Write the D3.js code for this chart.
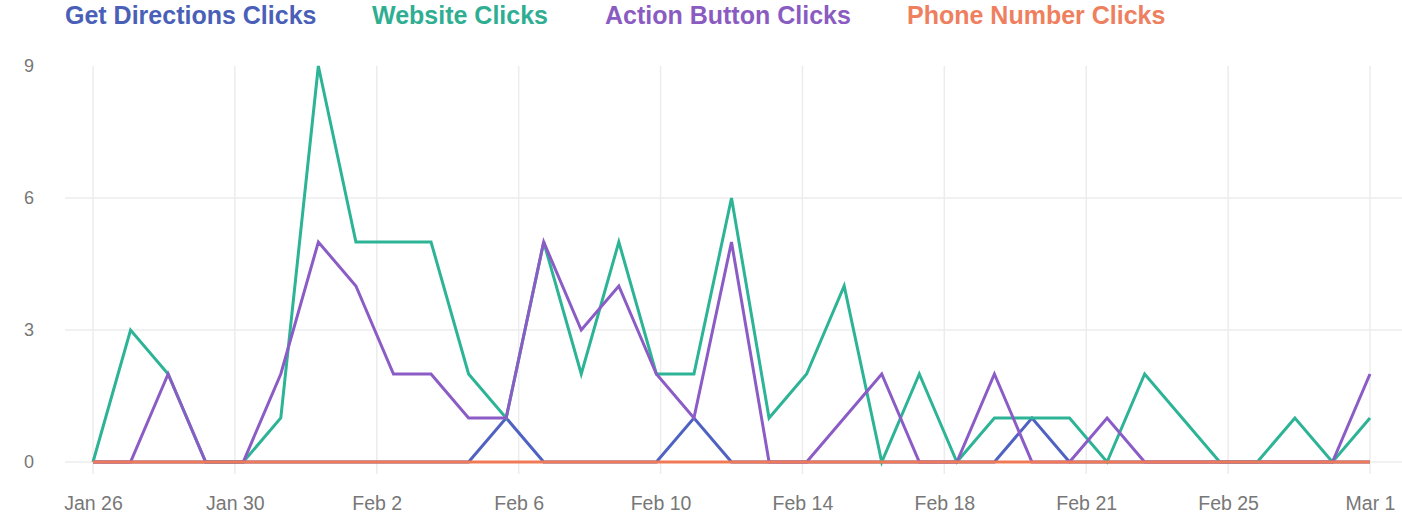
<!DOCTYPE html>
<html><head><meta charset="utf-8">
<script src="https://cdn.jsdelivr.net/npm/d3@7"></script>
<style>body{margin:0;background:#fff;} svg{display:block;}</style>
</head><body>
<svg id="chart" width="1402" height="519"></svg>
<script>
const dates = ["Jan 26","Jan 27","Jan 28","Jan 29","Jan 30","Jan 31","Feb 1","Feb 2","Feb 3","Feb 4","Feb 5","Feb 6","Feb 7","Feb 8","Feb 9","Feb 10","Feb 11","Feb 12","Feb 13","Feb 14","Feb 15","Feb 16","Feb 17","Feb 18","Feb 19","Feb 20","Feb 21","Feb 22","Feb 23","Feb 24","Feb 25","Feb 26","Feb 27","Feb 28","Mar 1"];
const xTickLabels = ["Jan 26","Jan 30","Feb 2","Feb 6","Feb 10","Feb 14","Feb 18","Feb 21","Feb 25","Mar 1"];
const yTicks = [0,3,6,9];
const seriesNames = ["Get Directions Clicks","Website Clicks","Action Button Clicks","Phone Number Clicks"];
const directions = [0,0,0,0,0,0,0,0,0,0,0,1,0,0,0,0,1,0,0,0,0,0,0,0,0,1,0,0,0,0,0,0,0,0,0];
const website    = [0,3,2,0,0,1,9,5,5,5,2,1,5,2,5,2,2,6,1,2,4,0,2,0,1,1,1,0,2,1,0,0,1,0,1];
const action     = [0,0,2,0,0,2,5,4,2,2,1,1,5,3,4,2,1,5,0,0,1,2,0,0,2,0,0,1,0,0,0,0,0,0,2];
const phone      = [0,0,0,0,0,0,0,0,0,0,0,0,0,0,0,0,0,0,0,0,0,0,0,0,0,0,0,0,0,0,0,0,0,0,0];
const colors = ["#4f62c2","#2db395","#8b5cc6","#f07a55"];
const legendColors = ["#4a5fb8","#2fae92","#8a5cc2","#ee8060"];

const svg = d3.select("#chart");
const x = d3.scalePoint().domain(dates).range([93,1370]);
const xt = d3.scalePoint().domain(xTickLabels).range([93,1370]);
const y = d3.scaleLinear().domain([0,9]).range([462,66]);

// gridlines
const grid = svg.append("g");
grid.selectAll("line.h").data(yTicks.filter(d=>d<9)).join("line")
  .attr("x1",65).attr("x2",1402).attr("y1",d=>y(d)).attr("y2",d=>y(d))
  .attr("stroke","#ececec").attr("stroke-width",1.5);
grid.selectAll("line.v").data(xTickLabels).join("line")
  .attr("x1",d=>xt(d)).attr("x2",d=>xt(d)).attr("y1",66).attr("y2",474)
  .attr("stroke","#ececec").attr("stroke-width",1.5);

// y axis labels
const yAxis = d3.axisLeft(y).tickValues(yTicks).tickSize(0).tickPadding(0);
const gy = svg.append("g").attr("transform","translate(34,0)").call(yAxis);
gy.select(".domain").remove();
gy.selectAll("text").attr("font-family","Liberation Sans, Arial, sans-serif").attr("font-size",18).attr("fill","#777");

// x axis labels
const xAxis = d3.axisBottom(xt).tickSize(0).tickPadding(0);
const gx = svg.append("g").attr("transform","translate(0,496)").call(xAxis);
gx.select(".domain").remove();
gx.selectAll("text").attr("font-family","Liberation Sans, Arial, sans-serif").attr("font-size",19.5).attr("fill","#777");

// lines
const all = [directions, website, action, phone];
const line = d3.line().x((d,i)=>x(dates[i])).y(d=>y(d));
all.forEach((s,k)=>{
  svg.append("path").datum(s).attr("d",line).attr("fill","none")
    .attr("stroke",colors[k]).attr("stroke-width",3).attr("stroke-linejoin","miter");
});

// legend
const legendX = [65,372,605,907];
svg.append("g").selectAll("text").data(seriesNames).join("text")
  .attr("x",(d,i)=>legendX[i]).attr("y",24)
  .attr("font-family","Liberation Sans, Arial, sans-serif").attr("font-weight","bold")
  .attr("font-size",25).attr("fill",(d,i)=>legendColors[i]).text(d=>d);
</script>
</body></html>
